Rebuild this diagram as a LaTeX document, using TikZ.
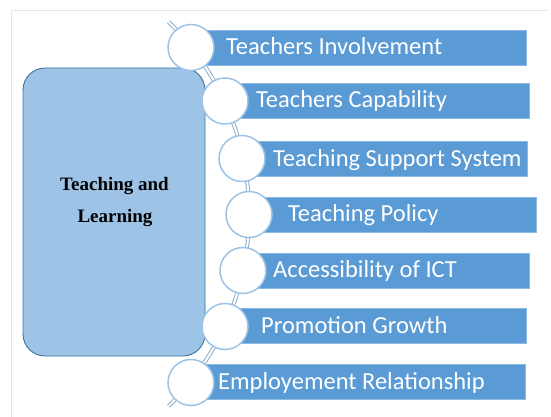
\documentclass[tikz,border=0pt]{standalone}
\usepackage{fontspec}
\usetikzlibrary{calc}
\newfontfamily\carl{Carlito}
\newfontfamily\tnr{Liberation Serif}
\definecolor{barblue}{HTML}{5B9BD5}
\definecolor{boxblue}{HTML}{9DC3E6}
\definecolor{boxedge}{HTML}{41719C}
\definecolor{ringblue}{HTML}{9DC3E6}
\begin{document}
\begin{tikzpicture}[x=1pt,y=-1pt,
  bar/.style={fill=barblue, draw=barblue!70!white, line width=0.6pt, minimum height=35pt, inner sep=0pt, anchor=west},
  ring/.style={circle, fill=white, draw=ringblue, line width=1.5pt, minimum size=46pt, inner sep=0pt},
  lbl/.style={font=\carl\fontsize{24.5}{28}\selectfont, text=white, anchor=base west, inner sep=0pt},
  mainbox/.style={rectangle, rounded corners=22pt, fill=boxblue, draw=boxedge, line width=0.9pt, minimum width=182pt, minimum height=288pt, inner sep=0pt},
  boxtext/.style={font=\tnr\bfseries\fontsize{19}{22}\selectfont, text=black, anchor=base, inner sep=0pt},
  connector/.style={draw=ringblue!90!black, line width=1pt, double=white, double distance=2pt}]
\useasboundingbox (0,0) rectangle (551,417);
\fill[white] (0,0) rectangle (551,417);
\draw[gray!20, line width=0.8pt] (11,417) -- (11,10) -- (548,10);
% main box
\node[mainbox] (m) at (114,212) {};
\node[boxtext] (t1) at (114.5,190) {Teaching and};
\node[boxtext] (t2) at (115,222) {Learning};
% arc connector
\coordinate (arcc) at (-20.4,214);
\coordinate (atop) at ($(arcc)+(-45.5:269.5)$);
\draw[connector] (atop) arc[start angle=-45.5, end angle=45.5, radius=269.5];
% bars
\node[bar, minimum width=335pt] (b1) at (191,47.5) {};
\node[bar, minimum width=304pt] (b2) at (225,100.5) {};
\node[bar, minimum width=285pt] (b3) at (242,159) {};
\node[bar, minimum width=287pt] (b4) at (249,214.5) {};
\node[bar, minimum width=286pt] (b5) at (243,270.5) {};
\node[bar, minimum width=301pt] (b6) at (225,326) {};
\node[bar, minimum width=334pt] (b7) at (191,382) {};
% circles
\node[ring] (c1) at (191,47.5) {};
\node[ring] (c2) at (225,101) {};
\node[ring] (c3) at (242,158.5) {};
\node[ring] (c4) at (249,214.5) {};
\node[ring] (c5) at (243,270.5) {};
\node[ring] (c6) at (225,326.5) {};
\node[ring] (c7) at (191,382.5) {};
% labels
\node[lbl] (l1) at (226,54.5) {Teachers Involvement};
\node[lbl] (l2) at (256,107.5) {Teachers Capability};
\node[lbl] (l3) at (273,166) {Teaching Support System};
\node[lbl] (l4) at (288,221.5) {Teaching Policy};
\node[lbl] (l5) at (273,277.5) {Accessibility of ICT};
\node[lbl] (l6) at (261,333) {Promotion Growth};
\node[lbl] (l7) at (218,389) {Employement Relationship};
\end{tikzpicture}
\end{document}
